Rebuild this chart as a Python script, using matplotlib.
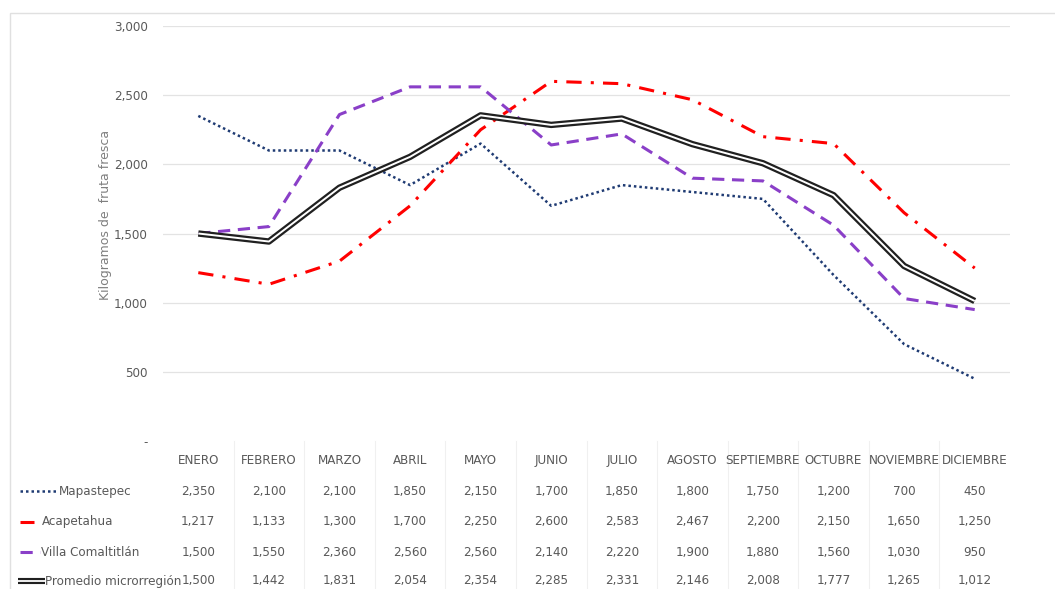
import numpy as np
import matplotlib.pyplot as plt
from matplotlib.lines import Line2D
from matplotlib.patches import Rectangle

# datos
meses = ['ENERO', 'FEBRERO', 'MARZO', 'ABRIL', 'MAYO', 'JUNIO', 'JULIO',
         'AGOSTO', 'SEPTIEMBRE', 'OCTUBRE', 'NOVIEMBRE', 'DICIEMBRE']
mapastepec = [2350, 2100, 2100, 1850, 2150, 1700, 1850, 1800, 1750, 1200, 700, 450]
acapetahua = [1217, 1133, 1300, 1700, 2250, 2600, 2583, 2467, 2200, 2150, 1650, 1250]
villa = [1500, 1550, 2360, 2560, 2560, 2140, 2220, 1900, 1880, 1560, 1030, 950]
promedio = [1500, 1442, 1831, 2054, 2354, 2285, 2331, 2146, 2008, 1777, 1265, 1012]
yticks = [0, 500, 1000, 1500, 2000, 2500, 3000]

plt.rcParams['font.family'] = ['DejaVu Sans']
plt.rcParams['font.stretch'] = 'condensed'
gris = '#595959'
fs = 9.5

fig = plt.figure(figsize=(10.55, 5.89), dpi=100)
ax = fig.add_axes([163/1055, 1-441/589, 847/1055, 415/589])

x = np.arange(len(meses))
ax.plot(x, mapastepec, color='#1F3B73', lw=1.8, ls=(0, (1, 1.2)))
ax.plot(x, acapetahua, color='#FF0000', lw=2.2, ls=(0, (5, 3, 1, 3)))
ax.plot(x, villa, color='#8A3FC8', lw=2.2, ls=(0, (4, 2.5)))
ax.plot(x, promedio, color='#202020', lw=4.6, solid_capstyle='butt')
ax.plot(x, promedio, color='white', lw=1.4, solid_capstyle='butt')

ax.set_xlim(-0.5, len(meses) - 0.5)
ax.set_ylim(0, 3000)
ax.set_yticks(yticks)
ax.set_yticklabels(['-' if v == 0 else f'{v:,}' for v in yticks], color=gris, fontsize=fs)
ax.set_xticks([])
ax.tick_params(axis='y', length=0, pad=11)
for v in yticks[1:]:
    ax.axhline(v, color='#E3E3E3', lw=0.9, zorder=0)
for s in ax.spines.values():
    s.set_visible(False)

fig.text(106/1055, 1-215/589, 'Kilogramos de  fruta fresca', rotation=90,
         ha='center', va='center', color='#7F7F7F', fontsize=9, stretch='normal')

# tabla de datos
filas_y = [-0.0458, -0.1205, -0.195, -0.2675, -0.337]
for k in range(len(meses) - 1):
    ax.add_line(Line2D([k + 0.5, k + 0.5], [0, -0.38], color='#F0F0F0', lw=0.8,
                       transform=ax.get_xaxis_transform(), clip_on=False))
for i, m in enumerate(meses):
    ax.text(i, filas_y[0], m, transform=ax.get_xaxis_transform(), ha='center',
            va='center', color=gris, fontsize=fs)
series = [mapastepec, acapetahua, villa, promedio]
for r, serie in enumerate(series):
    for i, v in enumerate(serie):
        ax.text(i, filas_y[r + 1], f'{v:,}', transform=ax.get_xaxis_transform(),
                ha='center', va='center', color=gris, fontsize=fs)

nombres = ['Mapastepec', 'Acapetahua', 'Villa Comaltitlán', 'Promedio microrregión']
muestras = [
    dict(x=[20, 58], color='#1F3B73', lw=1.8, ls=(0, (1, 1.2)), tx=59),
    dict(x=[20, 34], color='#FF0000', lw=2.2, ls=(0, (5, 3, 1, 3)), tx=42),
    dict(x=[20, 40], color='#8A3FC8', lw=2.2, ls=(0, (4, 2.5)), tx=41),
    dict(x=[18, 45], color='#202020', lw=4.4, ls='-', tx=45),
]
for r, (nom, mu) in enumerate(zip(nombres, muestras)):
    yf = 1 - [491, 522, 552, 581][r] / 589
    fig.add_artist(Line2D(np.array(mu['x']) / 1055, [yf, yf], color=mu['color'],
                          lw=mu['lw'], ls=mu['ls'], solid_capstyle='butt'))
    if r == 3:
        fig.add_artist(Line2D(np.array(mu['x']) / 1055, [yf, yf], color='white',
                              lw=1.3, solid_capstyle='butt'))
    fig.text(mu['tx'] / 1055, yf, nom, ha='left', va='center', color=gris, fontsize=fs)

# marco del gráfico
fig.add_artist(Rectangle((10/1055, -0.01), 1.1, 1-13/589 + 0.01, fill=False,
                         edgecolor='#E0E0E0', lw=1, transform=fig.transFigure))

fig.savefig('out.png', dpi=100)
